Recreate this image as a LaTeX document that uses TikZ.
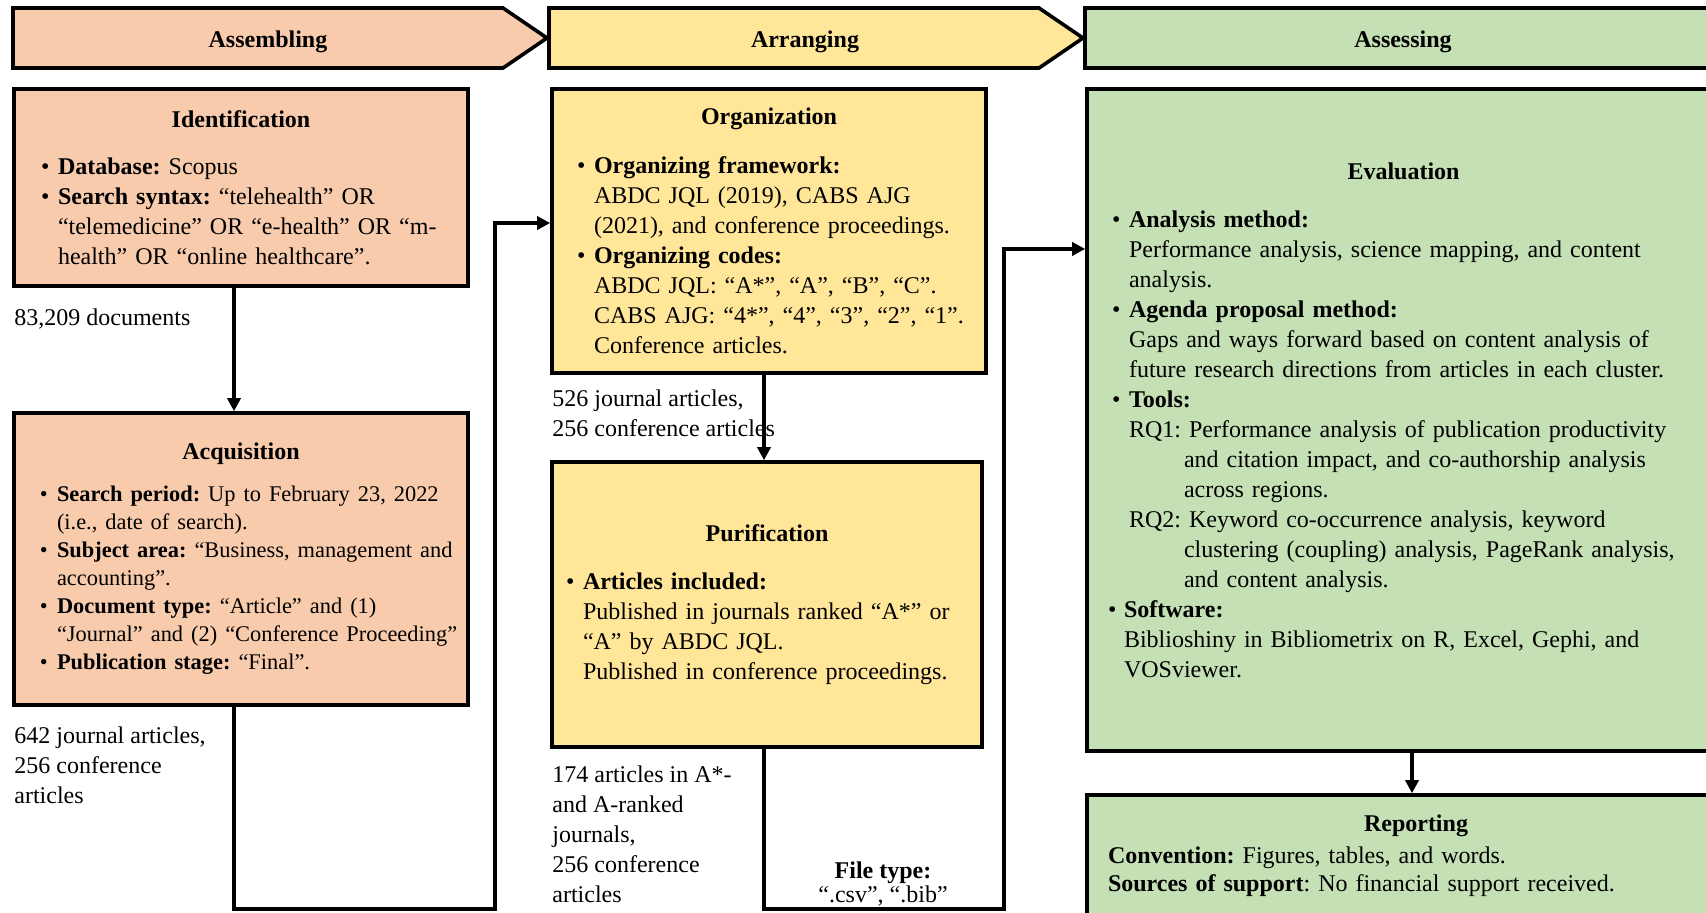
\documentclass[tikz,border=0pt]{standalone}
\usepackage{fontspec}
\setmainfont{Liberation Serif}
\usepackage{tikz}
\usetikzlibrary{arrows.meta,positioning,calc}
\usepackage{xcolor}
\definecolor{asmfill}{HTML}{F8CBAD}
\definecolor{arrfill}{HTML}{FFE699}
\definecolor{assfill}{HTML}{C5E0B4}

\newlength{\bulind}\setlength{\bulind}{8.5pt}
\newcommand{\boxtitle}[1]{{\centering\textbf{#1}\par}}
\newcommand{\setbody}[1]{\leftskip=#1\relax\rightskip=-20pt plus 1fil\relax\let\\\newline}
\newcommand{\bitem}[2]{\par\hangindent=\bulind\hangafter=1\noindent\hbox to\bulind{\textbullet\hfil}\textbf{#1}#2}
\newcommand{\rqitem}[2]{\par\hangindent=\dimexpr\bulind+27.5pt\relax\hangafter=1\noindent\hspace*{\bulind}#1~#2}

\tikzset{
    stagebox/.style={draw, line width=1.8pt, text width=#1, inner xsep=0pt, inner ysep=0pt, font=\fontsize{12}{15}\selectfont},
    headshape/.style={draw, line width=1.8pt},
    headtext/.style={font=\fontsize{12}{15}\selectfont\bfseries},
    countnote/.style={anchor=north west, align=left, inner sep=0pt, font=\fontsize{12}{15}\selectfont},
    flowarrow/.style={line width=1.7pt, -{Triangle[length=6.5pt,width=6.5pt]}}
}

\begin{document}
\frenchspacing
\begin{tikzpicture}[x=0.5pt, y=-0.5pt]
    \useasboundingbox[fill=white] (0,0) rectangle (1706,912);
    \clip (0,0) rectangle (1706,912);

    % phase headers
    \draw[headshape, fill=asmfill] (13,8) -- (503,8) -- (547,38) -- (503,68) -- (13,68) -- cycle;
    \draw[headshape, fill=arrfill] (549,8) -- (1039,8) -- (1083,38) -- (1039,68) -- (549,68) -- cycle;
    \draw[headshape, fill=assfill] (1085,8) -- (1725,8) -- (1769,38) -- (1725,68) -- (1085,68) -- cycle;
    \node[headtext] (assembling) at (268,42) {Assembling};
    \node[headtext] (arranging) at (805,42) {Arranging};
    \node[headtext] (assessing) at (1403,42) {Assessing};

    % stage boxes
    \node[stagebox=227pt, fill=asmfill, minimum height=98.5pt] (ident) at (241,187.5) {%
        \boxtitle{Identification}\vspace{8.5pt}
        \setbody{13.5pt}
        \bitem{Database:}{ Scopus}
        \bitem{Search syntax:}{ “telehealth” OR\\“telemedicine” OR “e-health” OR “m-\\health” OR “online healthcare”.}\par\vspace{4pt}};
    \node[stagebox=227pt, fill=asmfill, minimum height=146pt] (acq) at (241,559) {%
        \boxtitle{Acquisition}\vspace{7pt}
        \fontsize{11.2}{14}\selectfont
        \setbody{13pt}
        \bitem{Search period:}{ Up to February 23, 2022\\(i.e., date of search).}
        \bitem{Subject area:}{ “Business, management and\\accounting”.}
        \bitem{Document type:}{ “Article” and (1)\\“Journal” and (2) “Conference Proceeding”}
        \bitem{Publication stage:}{ “Final”.}\par\vspace{10pt}};
    \node[stagebox=217pt, fill=arrfill, minimum height=142pt] (org) at (769,231) {%
        \boxtitle{Organization}\vspace{9.5pt}
        \setbody{12.5pt}
        \bitem{Organizing framework:}{\\ABDC JQL (2019), CABS AJG\\(2021), and conference proceedings.}
        \bitem{Organizing codes:}{\\ABDC JQL: “A*”, “A”, “B”, “C”.\\CABS AJG: “4*”, “4”, “3”, “2”, “1”.\\Conference articles.}\par\vspace{3pt}};
    \node[stagebox=215pt, fill=arrfill, minimum height=142.5pt] (purif) at (767,604.5) {%
        \boxtitle{Purification}\vspace{9pt}
        \setbody{7pt}
        \bitem{Articles included:}{\\Published in journals ranked “A*” or\\“A” by ABDC JQL.\\Published in conference proceedings.}\par};
    \node[stagebox=316.5pt, fill=assfill, minimum height=331pt] (eval) at (1403.5,420) {%
        \boxtitle{Evaluation}\vspace{9pt}
        \setbody{12.5pt}
        \bitem{Analysis method:}{\\Performance analysis, science mapping, and content\\analysis.}
        \bitem{Agenda proposal method:}{\\Gaps and ways forward based on content analysis of\\future research directions from articles in each cluster.}
        \bitem{Tools:}{}
        \rqitem{RQ1:}{Performance analysis of publication productivity\\and citation impact, and co-authorship analysis\\across regions.}
        \rqitem{RQ2:}{Keyword co-occurrence analysis, keyword\\clustering (coupling) analysis, PageRank analysis,\\and content analysis.}
        \par\hangindent=6pt\hangafter=1\noindent\hspace*{-2pt}\hbox to 8pt{\textbullet\hfil}\textbf{Software:}\\Biblioshiny in Bibliometrix on R, Excel, Gephi, and\\VOSviewer.\par};
    \node[stagebox=325pt, fill=assfill, minimum height=60.5pt] (rep) at (1412,855.5) {%
        \fontsize{12}{14}\selectfont
        \vspace*{2pt}
        \boxtitle{Reporting}
        \setbody{10.5pt}
        \noindent\textbf{Convention:} Figures, tables, and words.\\
        \textbf{Sources of support}: No financial support received.\par};

    % counts under the boxes
    \node[countnote] (docsident) at (14,308) {83,209 documents};
    \node[countnote] (docsacq) at (14,726) {642 journal articles,\\256 conference\\articles};
    \node[countnote] (docsorg) at (552,389) {526 journal articles,\\256 conference articles};
    \node[countnote] (docspurif) at (552,765) {174 articles in A*-\\and A-ranked\\journals,\\256 conference\\articles};
    \node[align=center, inner sep=0pt, font=\fontsize{12}{12}\selectfont] (filetype) at (883,884) {\textbf{File type:}\\“.csv”, “.bib”};

    % turning points of the long connectors
    \coordinate (turnA) at (495,909);
    \coordinate (turnB) at (1004,909);

    \draw[flowarrow] ([xshift=-3.5pt]ident.south) -- ([xshift=-3.5pt]acq.north);
    \draw[flowarrow] ([xshift=-3.5pt]acq.south) |- (turnA) |- ([yshift=4pt]org.west);
    \draw[flowarrow] ([xshift=-2.5pt]org.south) -- ([xshift=-1.5pt]purif.north);
    \draw[flowarrow] ([xshift=-1.5pt]purif.south) |- (turnB) |- ($(eval.north west)!0.243!(eval.south west)$);
    \draw[flowarrow] (rep.north |- eval.south) -- (rep.north);
\end{tikzpicture}
\end{document}
